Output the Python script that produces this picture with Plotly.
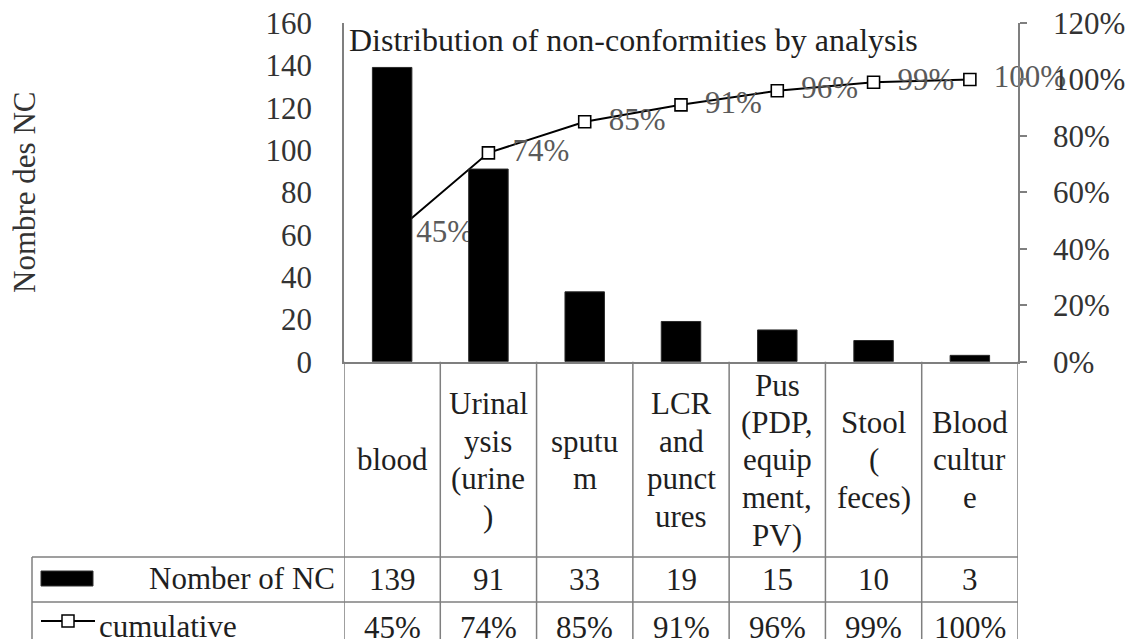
import plotly.graph_objects as go

# ---------------- data ----------------
categories = ["blood", "Urinalysis (urine)", "sputum", "LCR and punctures",
              "Pus (PDP, equipment, PV)", "Stool (feces)", "Blood culture"]
category_lines = [["blood"], ["Urinal", "ysis", "(urine", ")"], ["sputu", "m"],
                  ["LCR", "and", "punct", "ures"], ["Pus", "(PDP,", "equip", "ment,", "PV)"],
                  ["Stool", "(", "feces)"], ["Blood", "cultur", "e"]]
nc_counts = [139, 91, 33, 19, 15, 10, 3]
cumulative_pct = [0.45, 0.74, 0.85, 0.91, 0.96, 0.99, 1.00]
left_ticks = [0, 20, 40, 60, 80, 100, 120, 140, 160]
right_ticks = [0, 0.2, 0.4, 0.6, 0.8, 1.0, 1.2]
title_text = "Distribution of non-conformities by analysis"
y_title = "Nombre des NC"
series_names = ["Nomber of NC", "cumulative"]

# ---------------- layout helpers ----------------
W, H = 1128, 639
def xp(px):
    return px / W
def yp(py):
    return 1 - py / H

FONT = "Liberation Serif"
PLOT_L, PLOT_R = 344, 1018
PLOT_T, PLOT_B = 23, 361.7
GRID = "#7f7f7f"
TXT = "#1f1f1f"

fig = go.Figure()

# cumulative line (base axis, drawn beneath bars)
fig.add_trace(go.Scatter(
    x=categories, y=cumulative_pct, yaxis="y",
    mode="lines+markers+text",
    line=dict(color="black", width=2),
    marker=dict(symbol="square", size=12, color="white", line=dict(color="black", width=1.6)),
    text=["\u00a0\u00a0" + f"{v:.0%}" for v in cumulative_pct],
    textposition="middle right",
    textfont=dict(family=FONT, size=31, color="#5a5a5a"),
    cliponaxis=False, showlegend=False, name=series_names[1],
))

# bars (overlaying axis -> drawn on top)
fig.add_trace(go.Bar(
    x=categories, y=nc_counts, yaxis="y2", width=0.41,
    marker=dict(color="black", line=dict(color="#2a2a2a", width=1)),
    showlegend=False, name=series_names[0],
))

fig.update_layout(
    width=W, height=H, autosize=False,
    margin=dict(l=0, r=0, t=0, b=0),
    paper_bgcolor="white", plot_bgcolor="white",
    font=dict(family=FONT, color=TXT),
    showlegend=False,
    xaxis=dict(domain=[xp(PLOT_L), xp(PLOT_R)], type="category", range=[-0.5, 6.5],
               showticklabels=False, ticks="", showline=True, linecolor=GRID, linewidth=1.5,
               showgrid=False, zeroline=False, automargin=False),
    yaxis=dict(domain=[yp(PLOT_B), yp(PLOT_T)], range=[0, 1.2], side="right", anchor="x",
               tickvals=right_ticks, tickformat=".0%", ticks="outside", ticklen=7,
               tickcolor=GRID, tickwidth=1.5, showline=True, linecolor=GRID, linewidth=1.5,
               showgrid=False, zeroline=False, automargin=False, ticklabelstandoff=20,
               tickfont=dict(family=FONT, size=31, color="#333333")),
    yaxis2=dict(overlaying="y", side="left", range=[0, 160], anchor="x",
                tickvals=left_ticks, ticks="", showline=True, linecolor=GRID, linewidth=1.5,
                showgrid=False, zeroline=False, automargin=False, ticklabelstandoff=24,
                tickfont=dict(family=FONT, size=31, color="#333333")),
)

shapes = []
# table vertical lines at category boundaries
for b in [i - 0.5 for i in range(len(categories) + 1)]:
    shapes.append(dict(type="line", xref="x", yref="paper", x0=b, x1=b,
                       y0=yp(PLOT_B), y1=yp(H + 5), line=dict(color=GRID, width=1.5)))
# horizontal lines of the data table
for row_y in [557, 602]:
    shapes.append(dict(type="line", xref="paper", yref="paper", x0=xp(32), x1=xp(PLOT_R),
                       y0=yp(row_y), y1=yp(row_y), line=dict(color=GRID, width=1.5)))
shapes.append(dict(type="line", xref="paper", yref="paper", x0=xp(32), x1=xp(32),
                   y0=yp(557), y1=yp(H + 5), line=dict(color=GRID, width=1.5)))
# legend keys
shapes.append(dict(type="rect", xref="paper", yref="paper", x0=xp(41), x1=xp(93),
                   y0=yp(586), y1=yp(571), fillcolor="black", line=dict(color="#333", width=1)))
shapes.append(dict(type="line", xref="paper", yref="paper", x0=xp(41), x1=xp(95),
                   y0=yp(621), y1=yp(621), line=dict(color="black", width=2)))
shapes.append(dict(type="rect", xref="paper", yref="paper", x0=xp(62), x1=xp(74),
                   y0=yp(627), y1=yp(615), fillcolor="white", line=dict(color="black", width=1.5)))
fig.update_layout(shapes=shapes)

ann = []
ann.append(dict(text=title_text, xref="paper", yref="paper", x=xp(347), y=yp(40),
                xanchor="left", yanchor="middle", showarrow=False,
                font=dict(family=FONT, size=32, color=TXT)))
ann.append(dict(text=y_title, xref="paper", yref="paper", x=xp(25), y=yp(193),
                xanchor="center", yanchor="middle", textangle=-90, showarrow=False,
                font=dict(family=FONT, size=31, color="#333333")))
# category header cells
CELL_MID, LINE_H = 460, 37.5
for cat, lines in zip(categories, category_lines):
    n = len(lines)
    for j, t in enumerate(lines):
        ann.append(dict(text=t, xref="x", yref="paper", x=cat,
                        y=yp(CELL_MID + (j - (n - 1) / 2) * LINE_H),
                        xanchor="center", yanchor="middle", showarrow=False,
                        font=dict(family=FONT, size=31, color=TXT)))
# value rows
for cat, v, c in zip(categories, nc_counts, cumulative_pct):
    ann.append(dict(text=str(v), xref="x", yref="paper", x=cat, y=yp(579),
                    xanchor="center", yanchor="middle", showarrow=False,
                    font=dict(family=FONT, size=31, color=TXT)))
    ann.append(dict(text=f"{c:.0%}", xref="x", yref="paper", x=cat, y=yp(627),
                    xanchor="center", yanchor="middle", showarrow=False,
                    font=dict(family=FONT, size=31, color=TXT)))
ann.append(dict(text=series_names[0], xref="paper", yref="paper", x=xp(337), y=yp(578),
                xanchor="right", yanchor="middle", showarrow=False,
                font=dict(family=FONT, size=31, color=TXT)))
ann.append(dict(text=series_names[1], xref="paper", yref="paper", x=xp(97), y=yp(626),
                xanchor="left", yanchor="middle", showarrow=False,
                font=dict(family=FONT, size=31, color=TXT)))
fig.update_layout(annotations=ann)

fig.write_html("out.html")
